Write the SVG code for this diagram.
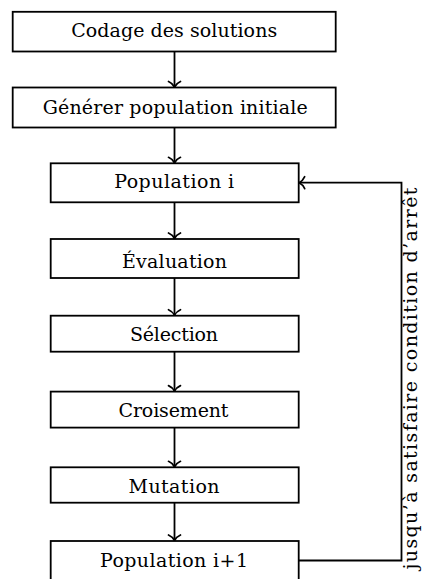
<svg xmlns="http://www.w3.org/2000/svg" width="422" height="579" viewBox="0 0 422 579">
<style>
  .box { fill: #ffffff; stroke: #000000; stroke-width: 1.8; }
  .lbl { font-family: "DejaVu Serif", "Liberation Serif", serif; font-size: 19px; fill: #000000; text-anchor: middle; }
  .edge { fill: none; stroke: #000000; stroke-width: 1.8; }
</style>
<defs>
  <marker id="arr" markerUnits="userSpaceOnUse" viewBox="-8 -8 10 16" markerWidth="10" markerHeight="16" refX="0" refY="0" orient="auto" overflow="visible">
    <path d="M -5.5,-6 C -4,-2.6 -1.4,-0.7 0,0 C -1.4,0.7 -4,2.6 -5.5,6" fill="none" stroke="#000000" stroke-width="1.7" stroke-linecap="round"/>
  </marker>
</defs>
<g id="connectors">
  <line class="edge" x1="174.5" y1="51.5" x2="174.5" y2="87" marker-end="url(#arr)"/>
  <line class="edge" x1="174.5" y1="127.5" x2="174.5" y2="162.8" marker-end="url(#arr)"/>
  <line class="edge" x1="174.5" y1="202.3" x2="174.5" y2="238.5" marker-end="url(#arr)"/>
  <line class="edge" x1="174.5" y1="278" x2="174.5" y2="315.2" marker-end="url(#arr)"/>
  <line class="edge" x1="174.5" y1="351.7" x2="174.5" y2="391.1" marker-end="url(#arr)"/>
  <line class="edge" x1="174.5" y1="427.6" x2="174.5" y2="466.8" marker-end="url(#arr)"/>
  <line class="edge" x1="174.5" y1="502.7" x2="174.5" y2="540.5" marker-end="url(#arr)"/>
  <path class="edge" d="M298.7,560.5 H401.5 V182.7 H299.2" marker-end="url(#arr)"/>
  <text class="lbl" transform="translate(417,378.5) rotate(-90)" textLength="382" lengthAdjust="spacing">jusqu’à satisfaire condition d’arrêt</text>
</g>
<g id="codage">
  <rect class="box" x="12.7" y="11.8" width="323" height="39.7"/>
  <text class="lbl" x="174.2" y="37.4" textLength="206" lengthAdjust="spacing">Codage des solutions</text>
</g>
<g id="generer">
  <rect class="box" x="12.7" y="87.5" width="323" height="40"/>
  <text class="lbl" x="175.2" y="114.3" textLength="265" lengthAdjust="spacing">Générer population initiale</text>
</g>
<g id="population-i">
  <rect class="box" x="50.7" y="163.3" width="248" height="39"/>
  <text class="lbl" x="174.2" y="187.7" textLength="120" lengthAdjust="spacing">Population i</text>
</g>
<g id="evaluation">
  <rect class="box" x="50.7" y="239" width="248" height="39"/>
  <text class="lbl" x="174.5" y="267.7" textLength="105" lengthAdjust="spacing">Évaluation</text>
</g>
<g id="selection">
  <rect class="box" x="50.7" y="315.7" width="248" height="36"/>
  <text class="lbl" x="174" y="341" textLength="88" lengthAdjust="spacing">Sélection</text>
</g>
<g id="croisement">
  <rect class="box" x="50.7" y="391.6" width="248" height="36"/>
  <text class="lbl" x="173.5" y="417.2" textLength="110" lengthAdjust="spacing">Croisement</text>
</g>
<g id="mutation">
  <rect class="box" x="50.7" y="467.3" width="248" height="35.4"/>
  <text class="lbl" x="174" y="493.3" textLength="91" lengthAdjust="spacing">Mutation</text>
</g>
<g id="population-i1">
  <rect class="box" x="50.7" y="541" width="248" height="39"/>
  <text class="lbl" x="174" y="566.7" textLength="148" lengthAdjust="spacing">Population i+1</text>
</g>
</svg>
